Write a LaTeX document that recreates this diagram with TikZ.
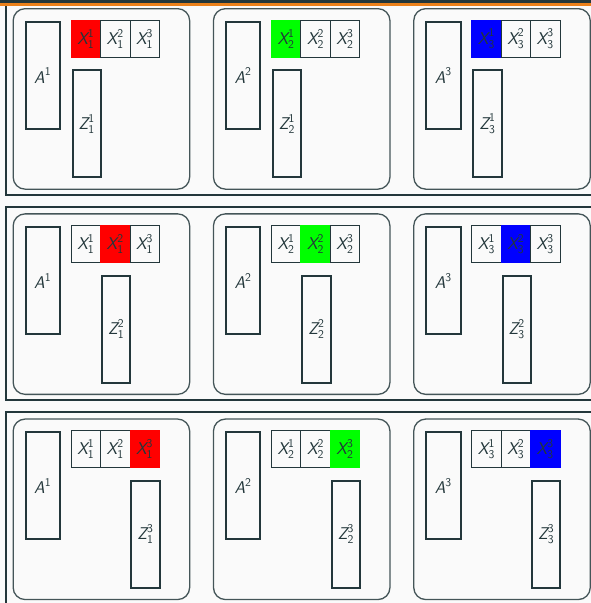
\documentclass[tikz,border=0pt]{standalone}
\usepackage{amsmath}
\usepackage{fontspec}
\definecolor{mteal}{HTML}{23373B}
\definecolor{morange}{HTML}{EB811B}
\definecolor{mbg}{HTML}{FAFAFA}
\newcommand{\xlab}[2]{$\text{\sffamily\itshape X}^{\text{\sffamily #2}}_{\text{\sffamily #1}}$}
\newcommand{\zlab}[2]{$\text{\sffamily\itshape Z}^{\text{\sffamily #2}}_{\text{\sffamily #1}}$}
\newcommand{\alab}[1]{$\text{\sffamily\itshape A}^{\text{\sffamily #1}}$}
\begin{document}
\begin{tikzpicture}[x=1pt,y=-1pt,
  rowframe/.style={draw=mteal,line width=2pt},
  rbox/.style={draw=mteal!85!white,line width=1.3pt,rounded corners=12pt,fill=mbg,inner sep=0pt,anchor=north west,minimum width=176.5pt,minimum height=180.5pt},
  tall/.style={draw=mteal,line width=2pt,minimum height=107pt,inner sep=0pt,anchor=north west},
  cell/.style={draw=mteal,line width=0.8pt,minimum width=29.4pt,minimum height=37pt,inner sep=0pt,anchor=north west},
  font=\fontsize{17}{20}\selectfont, text=mteal]
\useasboundingbox (0,0) rectangle (591,603);
\clip (0,0) rectangle (591,603);
\fill[mbg] (0,0) rectangle (591,603);
\foreach \r in {1,2,3}{
  \pgfmathsetmacro\fy{8+205.2*(\r-1)}
  \draw[rowframe] (6,\fy-6.3) rectangle (600,\fy+187);
}
\foreach \r in {1,2,3}{
 \foreach \c/\col in {1/red,2/green,3/blue}{
  \pgfmathsetmacro\bx{12.5+200.3*(\c-1)}
  \pgfmathsetmacro\by{8+205.2*(\r-1)}
  \node[rbox] (B\r\c) at (\bx,\by) {};
  \node[tall, minimum width=34.4pt] (A\r\c) at (\bx+12,\by+13) {\alab{\c}};
  \foreach \k in {1,2,3}{
    \ifnum\k=\r
      \tikzset{cur/.style={cell,fill=\col,draw=\col}}
    \else
      \tikzset{cur/.style={cell}}
    \fi
    \node[cur] (X\r\c\k) at (\bx+58.2+29.4*\k-29.4,\by+11.8) {\xlab{\c}{\k}};
  }
  \node[tall, minimum width=28.4pt] (Z\r\c) at (\bx+59+29.4*\r-29.4,\by+61.3) {\zlab{\c}{\r}};
 }
}
\fill[mteal] (0,0) rectangle (591,3.3);
\fill[morange] (0,3.3) rectangle (591,5.7);
\end{tikzpicture}
\end{document}
